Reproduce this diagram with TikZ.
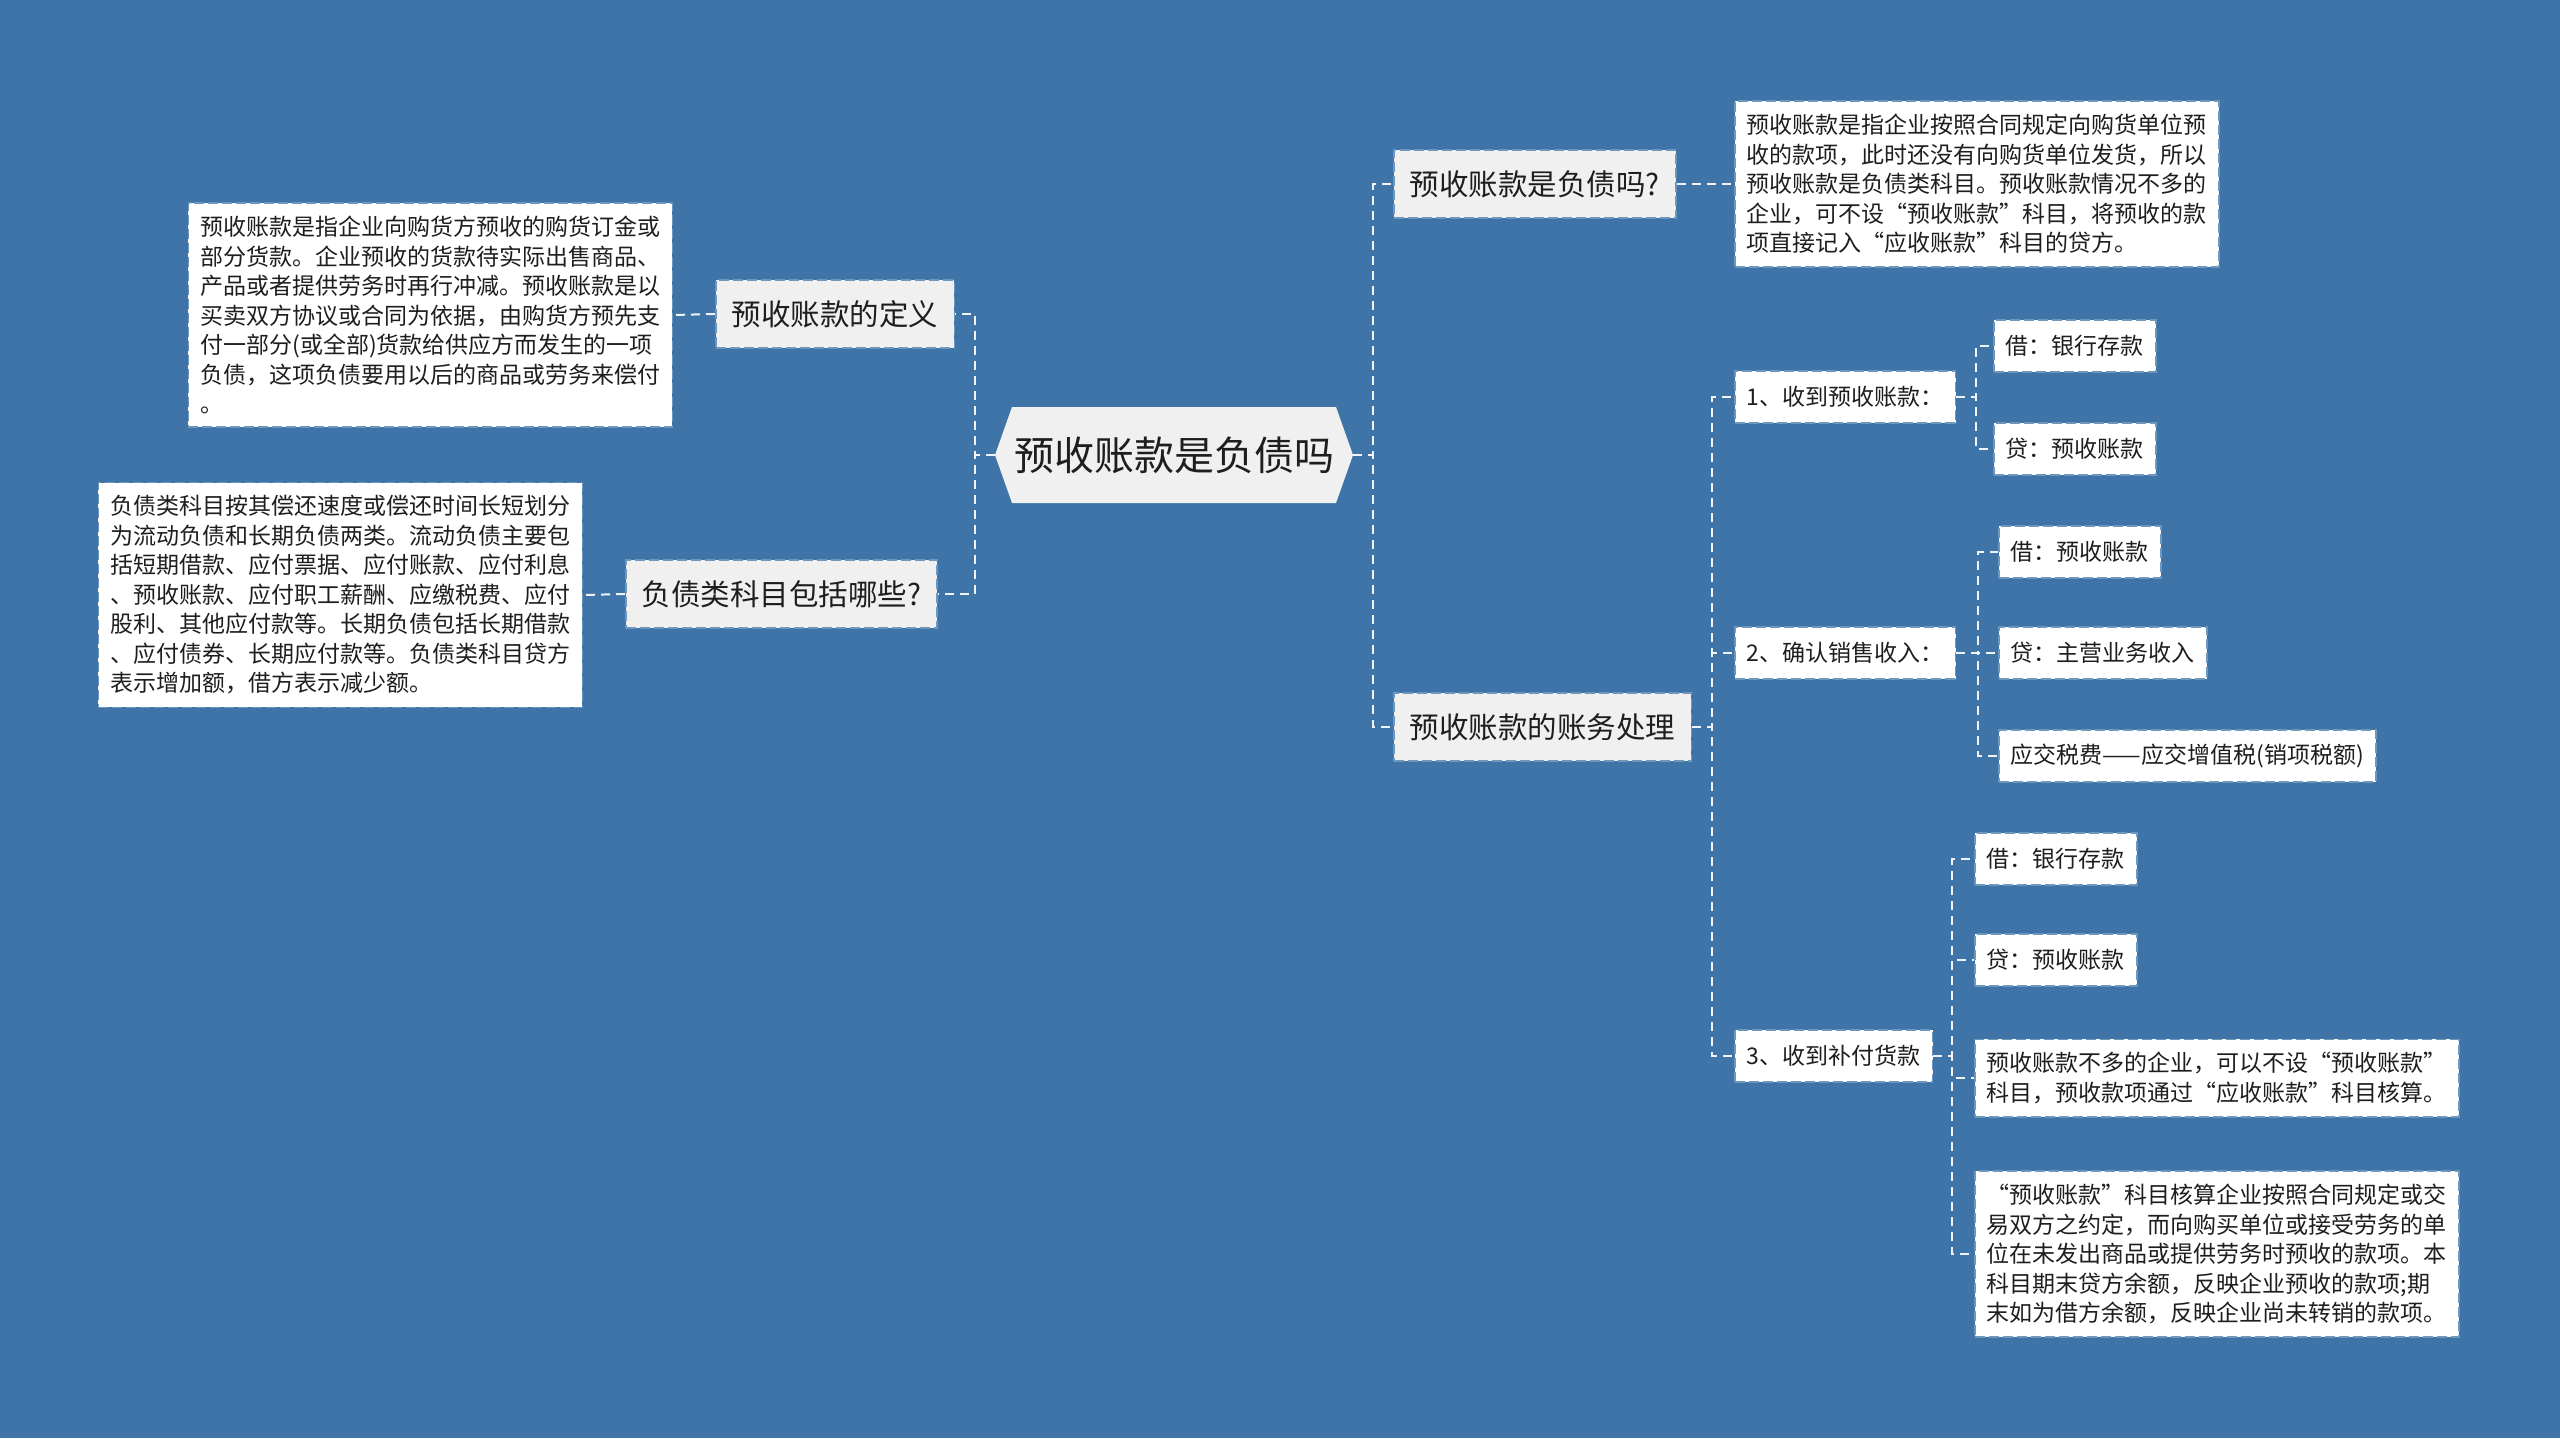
\documentclass[tikz,border=0pt]{standalone}
\usepackage{fontspec}
\setmainfont{Noto Sans CJK SC}
\definecolor{bgblue}{RGB}{62,116,167}
\definecolor{topicgray}{RGB}{240,240,240}
\definecolor{inktext}{RGB}{30,30,30}

\begin{document}
\begin{tikzpicture}[x=1pt,y=-1pt,
  every node/.style={text=inktext},
  link/.style={draw=white!92!bgblue,line width=2pt,dash pattern=on 9pt off 6pt},
  rim/.style={draw=bgblue!75!white,line width=1.5pt,dash pattern=on 10pt off 4pt},
  rootbox/.style={minimum width=358pt,minimum height=96pt,inner sep=0pt,font=\fontsize{40}{46}\selectfont},
  topic/.style={rim,fill=topicgray,anchor=west,minimum height=68pt,inner xsep=16pt,
    font=\fontsize{29.5}{35}\selectfont},
  leaf/.style={rim,fill=white,anchor=west,minimum height=52pt,inner xsep=12pt,
    font=\fontsize{23}{29}\selectfont},
  note/.style={rim,fill=white,align=left,inner xsep=12pt,inner ysep=13pt,
    font=\fontsize{23}{29.5}\selectfont}
]
  \fill[bgblue] (0,0) rectangle (2560,1438);
  \useasboundingbox (0,0) rectangle (2560,1438);

  % centre
  \coordinate (hub) at (1174,455);
  \fill[topicgray,shift={(hub)}] (-179,0) -- (-162,-48) -- (162,-48) -- (179,0) -- (162,48) -- (-162,48) -- cycle;
  \node[rootbox] (root) at (hub) {预收账款是负债吗};

  % left side
  \node[topic] (def) at (715,314) {预收账款的定义};
  \node[topic] (liab) at (625,594) {负债类科目包括哪些?};
  \node[note,anchor=east] (defnote) at (673,315) {预收账款是指企业向购货方预收的购货订金或\\部分货款。企业预收的货款待实际出售商品、\\产品或者提供劳务时再行冲减。预收账款是以\\买卖双方协议或合同为依据，由购货方预先支\\付一部分(或全部)货款给供应方而发生的一项\\负债，这项负债要用以后的商品或劳务来偿付\\。};
  \node[note,anchor=east] (liabnote) at (583,595) {负债类科目按其偿还速度或偿还时间长短划分\\为流动负债和长期负债两类。流动负债主要包\\括短期借款、应付票据、应付账款、应付利息\\、预收账款、应付职工薪酬、应缴税费、应付\\股利、其他应付款等。长期负债包括长期借款\\、应付债券、长期应付款等。负债类科目贷方\\表示增加额，借方表示减少额。};

  % right side
  \node[topic] (isq) at (1393,184) {预收账款是负债吗?};
  \node[note,anchor=west] (isqnote) at (1734,184) {预收账款是指企业按照合同规定向购货单位预\\收的款项，此时还没有向购货单位发货，所以\\预收账款是负债类科目。预收账款情况不多的\\企业，可不设“预收账款”科目，将预收的款\\项直接记入“应收账款”科目的贷方。};
  \node[topic] (acct) at (1393,727) {预收账款的账务处理};

  \node[leaf] (recv) at (1734,397) {1、收到预收账款：};
  \node[leaf] (sale) at (1734,653) {2、确认销售收入：};
  \node[leaf] (topup) at (1734,1056) {3、收到补付货款};

  \node[leaf] (recvdr) at (1993,346) {借：银行存款};
  \node[leaf] (recvcr) at (1993,449) {贷：预收账款};

  \node[leaf] (saledr) at (1998,552) {借：预收账款};
  \node[leaf] (salecr) at (1998,653) {贷：主营业务收入};
  \node[leaf] (saletax) at (1998,756) {应交税费——应交增值税(销项税额)};

  \node[leaf] (topdr) at (1974,859) {借：银行存款};
  \node[leaf] (topcr) at (1974,960) {贷：预收账款};
  \node[note,anchor=west] (topnoteA) at (1974,1078) {预收账款不多的企业，可以不设“预收账款”\\科目，预收款项通过“应收账款”科目核算。};
  \node[note,anchor=west] (topnoteB) at (1974,1254) {“预收账款”科目核算企业按照合同规定或交\\易双方之约定，而向购买单位或接受劳务的单\\位在未发出商品或提供劳务时预收的款项。本\\科目期末贷方余额，反映企业预收的款项;期\\末如为借方余额，反映企业尚未转销的款项。};

  % connectors
  \draw[link] (root.west) -- ++(-20,0) |- (def.east);
  \draw[link] (root.west) -- ++(-20,0) |- (liab.east);
  \draw[link] (def.west) -- (defnote.east);
  \draw[link] (liab.west) -- (liabnote.east);

  \draw[link] (root.east) -- ++(20,0) |- (isq.west);
  \draw[link] (root.east) -- ++(20,0) |- (acct.west);
  \draw[link] (isq.east) -- (isqnote.west);

  \draw[link] (acct.east) -- ++(20,0) |- (recv.west);
  \draw[link] (acct.east) -- ++(20,0) |- (sale.west);
  \draw[link] (acct.east) -- ++(20,0) |- (topup.west);

  \draw[link] (recv.east) -- ++(20,0) |- (recvdr.west);
  \draw[link] (recv.east) -- ++(20,0) |- (recvcr.west);

  \draw[link] (sale.east) -- ++(22,0) |- (saledr.west);
  \draw[link] (sale.east) -- ++(22,0) |- (salecr.west);
  \draw[link] (sale.east) -- ++(22,0) |- (saletax.west);

  \draw[link] (topup.east) -- ++(19,0) |- (topdr.west);
  \draw[link] (topup.east) -- ++(19,0) |- (topcr.west);
  \draw[link] (topup.east) -- ++(19,0) |- (topnoteA.west);
  \draw[link] (topup.east) -- ++(19,0) |- (topnoteB.west);
\end{tikzpicture}
\end{document}
